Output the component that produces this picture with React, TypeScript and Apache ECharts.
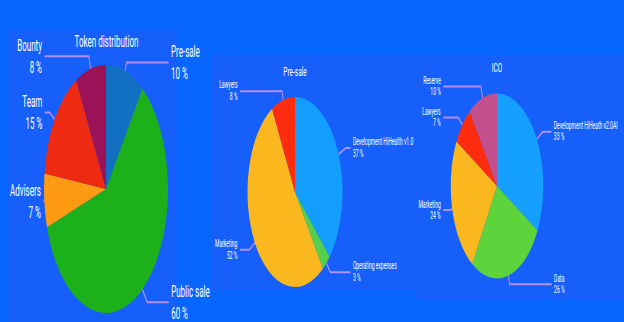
import React, { useEffect, useRef } from "react";
import * as echarts from "echarts";

// ---- Data ----
const tokenTitle = "Token distribution";
const tokenNames = ["Pre-sale", "Public sale", "Advisers", "Team", "Bounty"];
const tokenValues = [10, 60, 7, 15, 8];

const presaleTitle = "Pre-sale";
const presaleNames = ["Development HiHealth v1.0", "Operating expenses", "Marketing", "Lawyers"];
const presaleValues = [37, 3, 52, 8];

const icoTitle = "ICO";
const icoNames = ["Development HiHeath v2.0AI", "Data", "Marketing", "Lawyers", "Reserve"];
const icoValues = [33, 26, 24, 7, 10];

// ---- Styles / layout (kept apart from data) ----
const tokenColors = ["#1270c2", "#1cb01b", "#ff9a12", "#ee2a12", "#9b1259"];
const presaleColors = ["#139dff", "#55d04a", "#fbb81e", "#ff2c0f"];
const icoColors = ["#159fff", "#5dd43b", "#fbb81e", "#ff2c10", "#c2508c"];

// label line [length, length2] per slice (pre-scale pixels)
const tokenLines = [[9, 84], [16, 43], [2, 0], [12, 10], [13, 89]];
const presaleLines = [[16, 9], [12, 40], [13, 19], [9, 84]];
const icoLines = [[14, 17], [9, 84], [4, 14], [11, 30], [12, 75]];

const BG = "#0766fd";
const PANEL = "#165ffb";
const LINE = "#b58ef5";
const FONT = "Roboto, 'Liberation Sans', sans-serif";
const SX = 0.5; // the reference is horizontally compressed

const buildData = (names: string[], values: number[], colors: string[], lines: number[][]) =>
  names.map((n, i) => ({
    name: n,
    value: values[i],
    itemStyle: { color: colors[i] },
    labelLine: { length: lines[i][0], length2: lines[i][1] },
  }));

const pieSeries = (
  data: any[],
  center: [number, number],
  radius: number,
  fontSize: number,
  lineHeight: number
) => ({
  type: "pie",
  center,
  radius,
  startAngle: 90,
  clockwise: true,
  avoidLabelOverlap: false,
  data,
  label: {
    show: true,
    position: "outer",
    alignTo: "none",
    color: "#ffffff",
    fontFamily: FONT,
    fontSize,
    lineHeight,
    distanceToLabelLine: 5,
    formatter: (p: any) => `${p.name}\n${p.value} %`,
  },
  labelLine: {
    show: true,
    smooth: false,
    lineStyle: { color: LINE, width: 2 },
  },
  emphasis: { disabled: true },
});

export default function App() {
  const ref = useRef<HTMLDivElement>(null);
  useEffect(() => {
    if (!ref.current) return;
    const chart = echarts.init(ref.current, undefined, { renderer: "svg" });
    chart.setOption({
      animation: false,
      backgroundColor: BG,
      graphic: [
        { type: "rect", shape: { x: 16, y: 30, width: 340, height: 292 }, style: { fill: PANEL }, z: 0 },
        { type: "rect", shape: { x: 424, y: 55, width: 406, height: 235 }, style: { fill: PANEL }, z: 0 },
        { type: "rect", shape: { x: 830, y: 55, width: 418, height: 245 }, style: { fill: PANEL }, z: 0 },
        {
          type: "text",
          x: 213,
          y: 41,
          style: { text: tokenTitle, fill: "#fff", font: `16px ${FONT}`, textAlign: "center", textVerticalAlign: "middle" },
          z: 10,
        },
        {
          type: "text",
          x: 590,
          y: 72,
          style: { text: presaleTitle, fill: "#fff", font: `13px ${FONT}`, textAlign: "center", textVerticalAlign: "middle" },
          z: 10,
        },
        {
          type: "text",
          x: 994,
          y: 68,
          style: { text: icoTitle, fill: "#fff", font: `13px ${FONT}`, textAlign: "center", textVerticalAlign: "middle" },
          z: 10,
        },
      ],
      series: [
        pieSeries(buildData(tokenNames, tokenValues, tokenColors, tokenLines), [212, 189], 124, 16, 22),
        pieSeries(buildData(presaleNames, presaleValues, presaleColors, presaleLines), [590, 192], 95, 10, 12),
        pieSeries(buildData(icoNames, icoValues, icoColors, icoLines), [994, 186], 92.5, 10, 11),
      ],
    });
    return () => chart.dispose();
  }, []);

  return (
    <div
      style={{
        position: "fixed",
        left: 0,
        top: 0,
        width: 624,
        height: 322,
        overflow: "hidden",
        background: BG,
      }}
    >
      <div
        ref={ref}
        style={{
          width: 624 / SX,
          height: 322,
          transform: `scaleX(${SX})`,
          transformOrigin: "0 0",
        }}
      />
    </div>
  );
}
